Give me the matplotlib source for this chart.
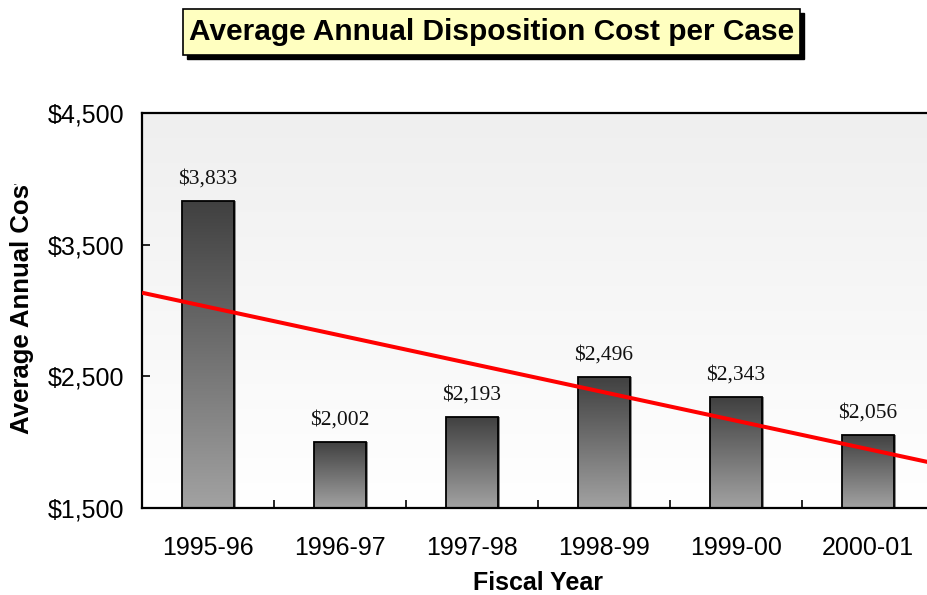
import numpy as np
import matplotlib
matplotlib.use("Agg")
import matplotlib.pyplot as plt
from matplotlib.patches import Rectangle
from matplotlib.colors import LinearSegmentedColormap
from matplotlib.ticker import FuncFormatter, FixedLocator
from matplotlib.transforms import ScaledTranslation

categories = ["1995-96", "1996-97", "1997-98", "1998-99", "1999-00", "2000-01"]
values = [3833, 2002, 2193, 2496, 2343, 2056]
yticks = [1500, 2500, 3500, 4500]
title = "Average Annual Disposition Cost per Case"
xlabel = "Fiscal Year"
ylabel = "Average Annual Cost"

W, H = 928, 595
fig = plt.figure(figsize=(W / 100, H / 100), dpi=100)
sans = ["Liberation Sans", "DejaVu Sans"]
serif = ["Liberation Serif", "DejaVu Serif"]

L, R, T, B = 142, 934, 113, 508
ax = fig.add_axes([L / W, 1 - B / H, (R - L) / W, (B - T) / H])

x = np.arange(len(categories))
n = len(categories)

# background gradient (light gray top -> white bottom)
bg = LinearSegmentedColormap.from_list("bg", ["#ffffff", "#efefef"])
grad = np.linspace(0, 1, 256).reshape(-1, 1)
ax.imshow(grad, cmap=bg, aspect="auto", extent=[-0.5, n - 0.5, 1500, 4500],
          origin="lower", zorder=0)

# bar shadows
shift = ScaledTranslation(2 / 100, 0, fig.dpi_scale_trans)
ax.bar(x, values, width=0.4, bottom=0, color="#8c8c8c", linewidth=0, zorder=1,
       transform=ax.transData + shift)

# bars with vertical gradient
bar_cmap = LinearSegmentedColormap.from_list("bar", ["#a2a2a2", "#404040"])
bars = ax.bar(x, values, width=0.4, bottom=0, facecolor="none", edgecolor="black",
              linewidth=1.3, zorder=3)
for rect, v in zip(bars, values):
    x0 = rect.get_x()
    w = rect.get_width()
    im = ax.imshow(grad, cmap=bar_cmap, aspect="auto",
                   extent=[x0, x0 + w, 1500, v], origin="lower", zorder=2)
    im.set_clip_path(rect)
    ax.annotate(f"${v:,}", (x0 + w / 2, v), xytext=(0, 9), textcoords="offset points",
                ha="center", va="bottom", fontsize=15.5, family=serif, color="#111111")

ax.set_xlim(-0.5, n - 0.5)
ax.set_ylim(1500, 4500)

# linear trend line
k, b0 = np.polyfit(x, values, 1)
xt = np.array([-0.5, n - 0.5])
ax.plot(xt, k * xt + b0, color="#ff0000", linewidth=2.9, zorder=4, solid_capstyle="butt")

# ticks
ax.set_xticks(x)
ax.set_xticklabels(categories, family=sans, fontsize=18)
ax.xaxis.set_minor_locator(FixedLocator(np.arange(0.5, n - 0.5, 1)))
ax.tick_params(axis="x", which="major", length=0, pad=20)
ax.tick_params(axis="x", which="minor", direction="in", length=6, width=1.2)
ax.set_yticks(yticks)
ax.yaxis.set_major_formatter(FuncFormatter(lambda v, p: f"${int(v):,}"))
ax.tick_params(axis="y", direction="in", length=6, width=1.2, labelsize=18, pad=13)
for lab in ax.get_yticklabels():
    lab.set_family(sans)

for s in ["left", "bottom", "top"]:
    ax.spines[s].set_linewidth(1.6)
ax.spines["right"].set_visible(False)

fig.text(538 / W, 1 - 583 / H, xlabel, ha="center", va="center",
         family=sans, fontsize=18, fontweight="bold")

# y label (its end is cut off in the reference)
fig.text(22 / W, 1 - 434 / H, ylabel, rotation=90, ha="center", va="bottom",
         family=sans, fontsize=18.5, fontweight="bold", zorder=1)
fig.add_artist(Rectangle((0, 1 - 184 / H), 60 / W, 60 / H, transform=fig.transFigure,
                         facecolor="white", edgecolor="none", zorder=2))

# title box with shadow
bx0, by0, bx1, by1 = 183, 9, 800, 55
shadow = Rectangle(((bx0 + 4) / W, 1 - (by1 + 4) / H), (bx1 - bx0) / W, (by1 - by0) / H,
                   transform=fig.transFigure, facecolor="black", edgecolor="black", zorder=1)
box = Rectangle((bx0 / W, 1 - by1 / H), (bx1 - bx0) / W, (by1 - by0) / H,
                transform=fig.transFigure, facecolor="#ffffc0", edgecolor="black",
                linewidth=1.2, zorder=2)
fig.add_artist(shadow)
fig.add_artist(box)
fig.text((bx0 + bx1) / 2 / W, 1 - (by0 + by1) / 2 / H, title, ha="center", va="center",
         family=sans, fontsize=21.5, fontweight="bold", zorder=3)

fig.savefig("out.png", dpi=100)
